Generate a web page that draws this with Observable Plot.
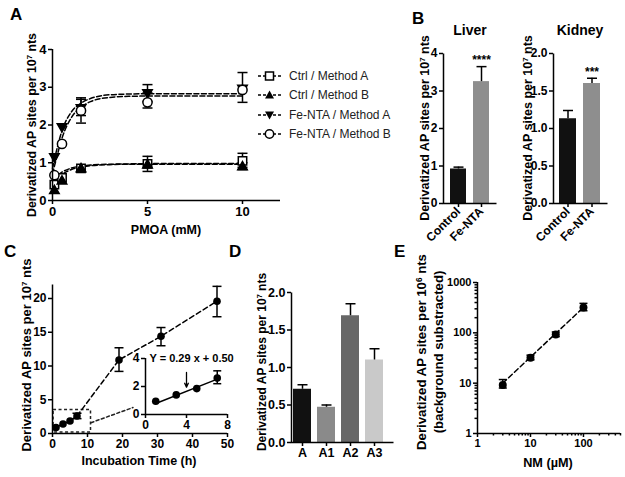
<!DOCTYPE html>
<html><head><meta charset="utf-8">
<script src="https://cdn.jsdelivr.net/npm/d3@7"></script>
<script src="https://cdn.jsdelivr.net/npm/@observablehq/plot@0.6"></script>
<style>
body{margin:0;background:#fff}
#fig{position:relative;width:625px;height:477px;background:#fff;overflow:hidden;font-family:"Liberation Sans",Arial,sans-serif;color:#000}
#fig svg g[aria-label$="tick"]{stroke-width:1.5px}
.lbl{position:absolute;white-space:nowrap;font-weight:bold;line-height:1}
.rot{transform:translate(-50%,-50%) rotate(-90deg);text-align:center}
.ctr{transform:translate(-50%,-50%);text-align:center}
.lbl sup{font-size:0.62em;vertical-align:0;position:relative;top:-0.55em}
.leg{position:absolute;display:flex;align-items:center;height:14px;font-size:12px;font-weight:normal;color:#222;white-space:nowrap}
.leg svg{margin-right:7px}
</style></head>
<body><div id="fig"></div>
<script>
// ================= DATA =================
// Panel A : PMOA titration
const pmoaMM      = [0.1, 0.5, 1.5, 5, 10];
const ctrlMethodA = [0.42, 0.60, 0.85, 0.97, 1.05];
const ctrlMethodB = [0.27, 0.52, 0.85, 0.95, 0.90];
const feMethodA   = [1.15, 1.95, 2.45, 2.85, 2.97];
const feMethodB   = [0.67, 1.50, 2.38, 2.60, 2.93];
const errCtrlA = [{x:5, lo:0.77, hi:1.17}, {x:10, lo:0.88, hi:1.25}];
const errCtrlB = [{x:10, lo:0.82, hi:1.00}];
const errFeA   = [{x:1.5, lo:2.25, hi:2.72}, {x:5, lo:2.62, hi:3.07}, {x:10, lo:2.60, hi:3.39}];
const errFeB   = [{x:1.5, lo:2.05, hi:2.68}, {x:5, lo:2.45, hi:2.85}];
const fitMM    = [0, 0.25, 0.5, 1, 1.5, 2, 3, 4, 6, 10];
const fitCtrlA = [0.55, 0.66, 0.75, 0.86, 0.91, 0.94, 0.96, 0.97, 0.98, 0.98];
const fitCtrlB = [0.45, 0.58, 0.69, 0.82, 0.89, 0.92, 0.95, 0.96, 0.96, 0.96];
const fitFeA   = [0.85, 1.40, 1.85, 2.35, 2.58, 2.70, 2.80, 2.82, 2.83, 2.83];
const fitFeB   = [0.70, 1.20, 1.65, 2.20, 2.47, 2.62, 2.73, 2.76, 2.77, 2.77];
const legendLabels = ["Ctrl / Method A", "Ctrl / Method B", "Fe-NTA / Method A", "Fe-NTA / Method B"];

// Panel B : tissues
const groupsB    = ["Control", "Fe-NTA"];
const liverMean  = [0.92, 3.25];
const liverErr   = [0.97, 3.65];
const liverSig   = ["", "****"];
const kidneyMean = [1.13, 1.60];
const kidneyErr  = [1.24, 1.67];
const kidneySig  = ["", "***"];

// Panel C : incubation time
const timeH  = [1, 3, 5, 7, 19, 31, 47];
const sitesC = [0.9, 1.4, 1.85, 2.6, 10.9, 14.4, 19.6];
const errC   = [{x:7, lo:2.2, hi:3.0}, {x:19, lo:9.2, hi:12.7}, {x:31, lo:13.0, hi:15.7}, {x:47, lo:17.3, hi:21.8}];
const zoomBox  = [{x1:0.3, x2:11, y1:0.15, y2:3.5}];
const zoomLink = [{x:11, y:1.6}, {x:23, y:3.85}];
const insetH     = [1, 3, 5, 7];
const insetSites = [0.95, 1.4, 1.85, 2.6];
const insetErr   = [{x:7, lo:2.2, hi:3.12}];
const insetFit   = [{x:1, y:0.79}, {x:7, y:2.53}];
const insetArrow = [{x:4, y1:3.0, y2:1.95}];
const insetEq    = ["Y = 0.29 x + 0.50"];

// Panel D
const groupsD = ["A", "A1", "A2", "A3"];
const meanD   = [0.71, 0.47, 1.69, 1.10];
const errD    = [0.77, 0.50, 1.85, 1.25];

// Panel E : NM dose
const nmUM   = [3, 10, 30, 100];
const sitesE = [9.2, 32, 93, 320];
const errE   = [{x:3, lo:8.0, hi:11.8}, {x:10, lo:29, hi:36}, {x:30, lo:84, hi:104}, {x:100, lo:275, hi:385}];
const fitE   = [{x:3, y:10}, {x:100, y:320}];

// ticks
const ticksAX = [0, 5, 10], ticksAY = [0, 1, 2, 3, 4];
const ticksLiver = [0, 1, 2, 3, 4], ticksKidney = [0, 0.5, 1, 1.5, 2];
const ticksCX = [0, 10, 20, 30, 40, 50], ticksCY = [0, 5, 10, 15, 20];
const ticksInsetX = [0, 4, 8], ticksInsetY = [0, 2, 4];
const ticksD = [0, 0.5, 1, 1.5, 2];
const ticksEX = [1, 10, 100], ticksEY = [1, 10, 100, 1000];

// ================= HELPERS =================
const W = 625, H = 477;
const fig = document.getElementById("fig");
const fmtInt = d3.format("d"), fmt1 = d3.format(".1f");
function add(opts, fs) {
  const p = Plot.plot({width: W, height: H, ...opts,
    style: `position:absolute;left:0;top:0;background:transparent;overflow:visible;font-family:'Liberation Sans',Arial,sans-serif;font-weight:bold;font-size:${fs}px;color:#000`});
  fig.appendChild(p);
}
function lbl(html, x, y, fs, cls, extra = "") {
  const d = document.createElement("div");
  d.className = "lbl " + (cls || "");
  d.style.cssText = `left:${x}px;top:${y}px;font-size:${fs}px;${extra}`;
  d.innerHTML = html;
  fig.appendChild(d);
}
const rad = s => Math.sqrt(s / Math.PI);
const cap = {draw(c, s) { const r = rad(s); c.moveTo(-r, 0); c.lineTo(r, 0); }};
const sq  = {draw(c, s) { const r = rad(s); c.rect(-r, -r, 2 * r, 2 * r); }};
const triUp = {draw(c, s) { const r = rad(s) * 1.25; c.moveTo(0, -r); c.lineTo(r * 0.95, r * 0.65); c.lineTo(-r * 0.95, r * 0.65); c.closePath(); }};
const triDn = {draw(c, s) { const r = rad(s) * 1.25; c.moveTo(0, r); c.lineTo(r * 0.95, -r * 0.65); c.lineTo(-r * 0.95, -r * 0.65); c.closePath(); }};
const zip = (xs, ys) => xs.map((x, i) => ({x, y: ys[i]}));
function errMarks(err, r, both = true) {
  const m = [Plot.ruleX(err, {x: "x", y1: "lo", y2: "hi", stroke: "#000", strokeWidth: 1.5}),
             Plot.dot(err, {x: "x", y: "hi", symbol: cap, r, stroke: "#000", fill: "none", strokeWidth: 1.5})];
  if (both) m.push(Plot.dot(err, {x: "x", y: "lo", symbol: cap, r, stroke: "#000", fill: "none", strokeWidth: 1.5}));
  return m;
}
const ax = (o) => Plot.axisX({tickSize: 4, tickPadding: 2, label: null, ...o});
const ay = (o) => Plot.axisY({tickSize: 4, tickPadding: 2, label: null, ...o});
const dash = "5,2.5";

// ================= PANEL A =================
const seriesA = [
  {ys: ctrlMethodA, fit: fitCtrlA, err: errCtrlA, sym: sq, fill: "#fff", r: 4.2},
  {ys: ctrlMethodB, fit: fitCtrlB, err: errCtrlB, sym: triUp, fill: "#000", r: 4},
  {ys: feMethodA,   fit: fitFeA,   err: errFeA,   sym: triDn, fill: "#000", r: 4},
  {ys: feMethodB,   fit: fitFeB,   err: errFeB,   sym: "circle", fill: "#fff", r: 4.6}
];
add({
  marginLeft: 52, marginRight: 345, marginTop: 49, marginBottom: 277,
  x: {domain: [0, 12]}, y: {domain: [0, 4]},
  marks: [
    ...seriesA.map(s => Plot.line(zip(fitMM, s.fit), {x: "x", y: "y", curve: "monotone-x", stroke: "#000", strokeWidth: 1.5, strokeDasharray: dash})),
    ...seriesA.flatMap(s => errMarks(s.err, 5)),
    ...seriesA.map(s => Plot.dot(zip(pmoaMM, s.ys), {x: "x", y: "y", symbol: s.sym, r: s.r, fill: s.fill, stroke: "#000", strokeWidth: 1.5})),
    Plot.ruleY([0], {strokeWidth: 1.5}), Plot.ruleX([0], {strokeWidth: 1.5}),
    ax({ticks: ticksAX, tickFormat: fmtInt, fontSize: 13}), ay({ticks: ticksAY, tickFormat: fmtInt, fontSize: 13})
  ]
}, 13);

// legend A
const legSyms = [
  `<rect x="8.5" y="3" width="8" height="8" fill="#fff" stroke="#000" stroke-width="1.5"/>`,
  `<path d="M12.5,2.5 L17,10.5 L8,10.5Z" fill="#000"/>`,
  `<path d="M12.5,11.5 L17,3.5 L8,3.5Z" fill="#000"/>`,
  `<circle cx="12.5" cy="7" r="4.2" fill="#fff" stroke="#000" stroke-width="1.5"/>`
];
legendLabels.forEach((t, i) => {
  const d = document.createElement("div");
  d.className = "leg";
  d.style.left = "257px"; d.style.top = (69 + i * 19.4) + "px";
  d.innerHTML = `<svg width="25" height="14"><line x1="1" x2="24" y1="7" y2="7" stroke="#000" stroke-width="1.5" stroke-dasharray="3,2"/>${legSyms[i]}</svg>${t}`;
  fig.appendChild(d);
});

// ================= PANEL B =================
function organ(means, errs, sigs, ml, mr, ydom, ticks, fmt) {
  const rows = groupsB.map((g, i) => ({g, v: means[i], e: errs[i], s: sigs[i]}));
  const Wd = W - ml - mr, Ht = 477 - 53 - 274;
  add({
    marginLeft: ml, marginRight: mr, marginTop: 53, marginBottom: 274,
    x: {domain: groupsB, paddingInner: 0.29, paddingOuter: 0.25},
    y: {domain: ydom},
    color: {domain: groupsB, range: ["#111111", "#8e8e8e"]},
    marks: [
      Plot.barY(rows, {x: "g", y: "v", fill: "g"}),
      Plot.ruleX(rows, {x: "g", y1: "v", y2: "e", stroke: "#000", strokeWidth: 1.5}),
      Plot.dot(rows, {x: "g", y: "e", symbol: cap, r: 5, stroke: "#000", fill: "none", strokeWidth: 1.5}),
      Plot.text(rows, {x: "g", y: "e", text: "s", dy: -6, fontSize: 12}),
      Plot.frame({stroke: "#000", strokeWidth: 1.5, strokeDasharray: `0 ${Wd + Ht} ${Wd + Ht} 0`}),
      ax({tickRotate: -45, fontSize: 12}),
      ay({ticks, tickFormat: fmt, fontSize: 12})
    ]
  }, 12);
}
organ(liverMean, liverErr, liverSig, 443, 129, [0, 4], ticksLiver, fmtInt);
organ(kidneyMean, kidneyErr, kidneySig, 553, 18, [0, 2], ticksKidney, fmt1);

// ================= PANEL C =================
add({
  marginLeft: 52, marginRight: 398, marginTop: 284.5, marginBottom: 44,
  x: {domain: [0, 50]}, y: {domain: [0, 22]},
  marks: [
    Plot.rect(zoomBox, {x1: "x1", x2: "x2", y1: "y1", y2: "y2", fill: "none", stroke: "#222", strokeWidth: 1.5, strokeDasharray: "3,2.5"}),
    Plot.line(zoomLink, {x: "x", y: "y", stroke: "#222", strokeWidth: 1.5, strokeDasharray: "3,2.5"}),
    Plot.line(zip(timeH, sitesC), {x: "x", y: "y", stroke: "#000", strokeWidth: 1.5, strokeDasharray: "5,3"}),
    ...errMarks(errC, 4.5),
    Plot.dot(zip(timeH, sitesC), {x: "x", y: "y", r: 3.8, fill: "#000"}),
    Plot.ruleY([0], {strokeWidth: 1.5}), Plot.ruleX([0], {strokeWidth: 1.5}),
    ax({ticks: ticksCX, tickFormat: fmtInt, fontSize: 12}), ay({ticks: ticksCY, tickFormat: fmtInt, fontSize: 12})
  ]
}, 12);
// inset
add({
  marginLeft: 145, marginRight: 398, marginTop: 358, marginBottom: 63,
  x: {domain: [0, 8]}, y: {domain: [0, 4]},
  marks: [
    Plot.line(insetFit, {x: "x", y: "y", stroke: "#000", strokeWidth: 1.5}),
    ...errMarks(insetErr, 4),
    Plot.dot(zip(insetH, insetSites), {x: "x", y: "y", r: 3.8, fill: "#000"}),
    Plot.arrow(insetArrow, {x: "x", y1: "y1", y2: "y2", stroke: "#000", strokeWidth: 1.3, headLength: 5, headAngle: 50}),
    Plot.text(insetEq, {text: d => d, frameAnchor: "top-left", textAnchor: "start", lineAnchor: "middle", dx: 4, fontSize: 11}),
    Plot.ruleY([0], {strokeWidth: 1.5}), Plot.ruleX([0], {strokeWidth: 1.5}),
    ax({ticks: ticksInsetX, tickFormat: fmtInt, fontSize: 12}), ay({ticks: ticksInsetY, tickFormat: fmtInt, fontSize: 12})
  ]
}, 12);

// ================= PANEL D =================
{
  const rows = groupsD.map((g, i) => ({g, v: meanD[i], e: errD[i]}));
  const Wd = 625 - 291 - 232, Ht = 477 - 292 - 35;
  add({
    marginLeft: 291, marginRight: 232, marginTop: 292, marginBottom: 35,
    x: {domain: groupsD, paddingInner: 0.24, paddingOuter: 0.2, align: 0.2},
    y: {domain: [0, 2]},
    color: {domain: groupsD, range: ["#111111", "#8a8a8a", "#676767", "#c9c9c9"]},
    marks: [
      Plot.barY(rows, {x: "g", y: "v", fill: "g"}),
      Plot.ruleX(rows, {x: "g", y1: "v", y2: "e", stroke: "#000", strokeWidth: 1.5}),
      Plot.dot(rows, {x: "g", y: "e", symbol: cap, r: 5, stroke: "#000", fill: "none", strokeWidth: 1.5}),
      Plot.frame({stroke: "#000", strokeWidth: 1.5, strokeDasharray: `0 ${Wd + Ht} ${Wd + Ht} 0`}),
      ax({fontSize: 12.5}),
      ay({ticks: ticksD, tickFormat: fmt1, fontSize: 12.5})
    ]
  }, 12.5);
}

// ================= PANEL E =================
{
  const minorX = [], minorY = [];
  for (const dec of [1, 10, 100]) for (let k = 2; k <= 9; k++) { if (dec * k <= 500) minorX.push(dec * k); minorY.push(dec * k); }
  add({
    marginLeft: 477, marginRight: 5, marginTop: 282, marginBottom: 44,
    x: {type: "log", domain: [1, 500]}, y: {type: "log", domain: [1, 1000]},
    marks: [
      Plot.line(fitE, {x: "x", y: "y", stroke: "#000", strokeWidth: 1.5, strokeDasharray: "5,3"}),
      ...errMarks(errE, 4),
      Plot.dot(zip(nmUM, sitesE), {x: "x", y: "y", r: 4, fill: "#000"}),
      Plot.ruleY([1], {strokeWidth: 1.5}), Plot.ruleX([1], {strokeWidth: 1.5}),
      ax({ticks: ticksEX, tickFormat: fmtInt, fontSize: 11}),
      ax({ticks: minorX, tickSize: 2.5, tickFormat: () => ""}),
      ay({ticks: ticksEY, tickFormat: fmtInt, fontSize: 11}),
      ay({ticks: minorY, tickSize: 2.5, tickFormat: () => ""})
    ]
  }, 11);
}

// ================= TEXT LABELS =================
const yl = "Derivatized AP sites per 10<sup>7</sup> nts";
lbl(yl, 32, 125, 12.4, "rot");
lbl("PMOA (mM)", 166, 230, 12.5, "ctr");
lbl("Liver", 470, 30, 14, "ctr");
lbl("Kidney", 580, 30, 14, "ctr");
lbl(yl, 425, 128, 12.5, "rot");
lbl(yl, 528, 128, 12.5, "rot");
lbl(yl, 27, 355, 13, "rot");
lbl("Incubation Time (h)", 139, 461, 12.5, "ctr");
lbl(yl, 262, 362, 12, "rot");
lbl("Derivatized AP sites per 10<sup>6</sup> nts<br>(background substracted)", 430, 352, 13.2, "rot", "line-height:15px");
lbl("NM (µM)", 548, 463, 12.7, "ctr");
// panel letters
lbl("A", 10, 5.5, 17);
lbl("B", 412, 9.5, 17);
lbl("C", 4, 242.5, 17);
lbl("D", 229, 242.5, 17);
lbl("E", 394, 242.5, 17);
</script>
</body></html>
